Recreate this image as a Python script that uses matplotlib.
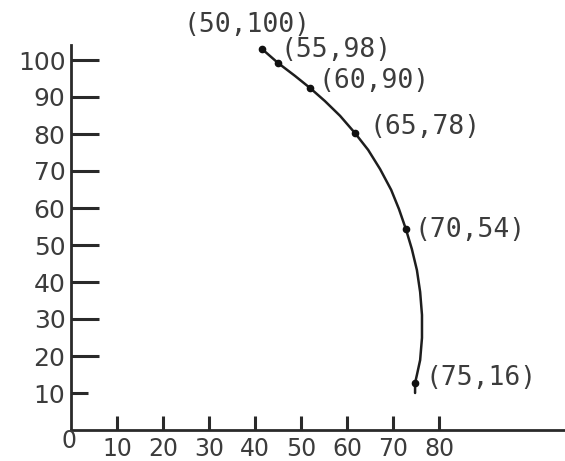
import matplotlib
matplotlib.use("Agg")
import matplotlib.pyplot as plt

# points as drawn on the picture
point_x = [41.5, 45.0, 52.0, 61.7, 72.8, 74.8]
point_y = [103.0, 99.2, 92.4, 80.3, 54.3, 12.7]
point_labels = ["(50,100)", "(55,98)", "(60,90)", "(65,78)", "(70,54)", "(75,16)"]

# curve trace
curve_x = [41.5, 45.0, 48.7, 52.0, 55.2, 58.5, 61.7, 64.6, 67.2, 69.6, 71.3,
           72.8, 74.1, 75.2, 75.9, 76.3, 76.3, 75.9, 75.2, 74.8, 74.8]
curve_y = [103.0, 99.2, 95.7, 92.4, 88.9, 84.9, 80.3, 75.7, 70.5, 64.9, 59.7,
           54.3, 48.9, 43.2, 37.3, 31.1, 24.9, 18.9, 14.9, 12.7, 10.0]

x_ticks = [10, 20, 30, 40, 50, 60, 70, 80]
y_ticks = [10, 20, 30, 40, 50, 60, 70, 80, 90, 100]

# label offsets in pixels (layout)
label_offsets = [(-78, 24), (3, 13), (8, 7), (15, 6), (9, -1), (10, 5)]

fig = plt.figure(figsize=(5.65, 4.61), dpi=100)
ax = fig.add_axes([71 / 565, 31 / 461, 494 / 565, 385 / 461])
ax.set_xlim(0, 494 / 4.6)
ax.set_ylim(0, 385 / 3.7)

dark = "#2a2a2a"
txt = "#3c3c3c"
for s in ["top", "right"]:
    ax.spines[s].set_visible(False)
for s in ["left", "bottom"]:
    ax.spines[s].set_linewidth(2.0)
    ax.spines[s].set_color(dark)

ax.set_xticks(x_ticks)
ax.set_yticks(y_ticks)
ax.tick_params(axis="y", direction="in", length=20, width=2.2, color=dark,
               labelsize=18, labelcolor=txt, pad=4)
ax.tick_params(axis="x", direction="in", length=10, width=2.2, color=dark,
               labelsize=17, labelcolor=txt, pad=5)
# shorter tick for 10 on y-axis
ax.yaxis.get_major_ticks()[0].tick1line.set_markersize(12)

ax.annotate("0", xy=(0, 0), xycoords="data", xytext=(-2, -11),
            textcoords="offset pixels", ha="center", va="center",
            fontsize=17, color=txt, annotation_clip=False)

ax.plot(curve_x, curve_y, color="#1e1e1e", lw=1.8, solid_capstyle="round",
        solid_joinstyle="round", clip_on=False)
ax.plot(point_x, point_y, "o", color="#111111", ms=4.5, clip_on=False)

for x, y, lab, (dx, dy) in zip(point_x, point_y, point_labels, label_offsets):
    ax.annotate(lab, xy=(x, y), xytext=(dx, dy), textcoords="offset pixels",
                ha="left", va="center", fontsize=19, color=txt,
                family="DejaVu Sans Mono", annotation_clip=False)

fig.savefig("out.png", dpi=100)
